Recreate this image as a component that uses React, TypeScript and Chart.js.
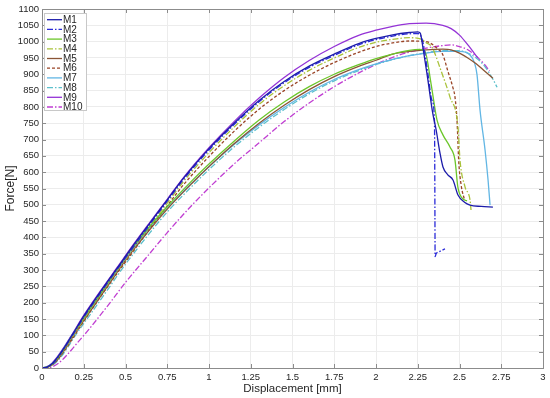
import React, { useEffect, useRef } from 'react';
import { Chart, registerables } from 'chart.js';

Chart.register(...registerables);

// ---------------- data ----------------
const seriesNames = ['M1', 'M2', 'M3', 'M4', 'M5', 'M6', 'M7', 'M8', 'M9', 'M10'];

const M1_x = [0, 0.03, 0.06, 0.1, 0.14, 0.178, 0.25, 0.35, 0.45, 0.55, 0.647, 0.75, 0.845, 1.0, 1.15, 1.3, 1.45, 1.6, 1.75, 1.9, 2.0, 2.1, 2.2, 2.25, 2.265, 2.28, 2.31, 2.34, 2.36, 2.383, 2.401, 2.43, 2.461, 2.491, 2.53, 2.563, 2.63, 2.7];
const M1_y = [0, 3, 13, 38, 68, 99, 159, 234, 306, 378, 445, 515, 580, 672, 750, 820, 878, 925, 962, 995, 1010, 1021, 1028, 1030, 1026, 985, 885, 780, 730, 659, 616, 592, 576, 530, 508, 499, 495, 493];

const M2_x = [0, 0.03, 0.06, 0.1, 0.14, 0.178, 0.25, 0.35, 0.45, 0.55, 0.647, 0.75, 0.845, 1.0, 1.15, 1.3, 1.45, 1.6, 1.75, 1.9, 2.0, 2.1, 2.2, 2.25, 2.28, 2.31, 2.335, 2.35, 2.352, 2.353, 2.354, 2.36, 2.385, 2.413];
const M2_y = [0, 2, 11, 35, 65, 96, 155, 230, 302, 372, 441, 511, 576, 668, 746, 816, 874, 921, 958, 991, 1006, 1017, 1024, 1025, 1000, 905, 820, 760, 600, 450, 341, 350, 358, 365];

const M3_x = [0, 0.04, 0.08, 0.12, 0.16, 0.2, 0.3, 0.4, 0.5, 0.647, 0.75, 0.9, 1.0, 1.15, 1.3, 1.45, 1.6, 1.75, 1.9, 2.0, 2.1, 2.2, 2.26, 2.293, 2.33, 2.365, 2.4, 2.443, 2.473, 2.49, 2.515, 2.545];
const M3_y = [0, 5, 22, 50, 82, 115, 190, 265, 340, 435, 495, 575, 625, 695, 760, 815, 862, 900, 930, 948, 962, 973, 976, 970, 870, 760, 715, 677, 637, 555, 521, 512];

const M4_x = [0, 0.03, 0.06, 0.1, 0.14, 0.178, 0.25, 0.35, 0.45, 0.55, 0.647, 0.75, 0.845, 1.0, 1.15, 1.3, 1.45, 1.6, 1.75, 1.9, 2.0, 2.1, 2.2, 2.27, 2.3, 2.335, 2.39, 2.443, 2.491, 2.503, 2.533, 2.563, 2.569];
const M4_y = [0, 2, 10, 34, 62, 92, 150, 226, 298, 368, 436, 505, 570, 660, 738, 808, 865, 912, 950, 983, 998, 1007, 1012, 1008, 997, 983, 910, 830, 738, 637, 555, 515, 484];

const M5_x = [0, 0.04, 0.08, 0.12, 0.16, 0.2, 0.3, 0.4, 0.5, 0.647, 0.75, 0.9, 1.0, 1.15, 1.3, 1.45, 1.6, 1.75, 1.9, 2.0, 2.1, 2.2, 2.3, 2.4, 2.45, 2.5, 2.55, 2.6, 2.65, 2.7];
const M5_y = [0, 4, 18, 44, 75, 108, 182, 256, 330, 425, 487, 567, 617, 687, 750, 805, 853, 893, 925, 943, 962, 970, 975, 977, 975, 965, 950, 932, 910, 888];

const M6_x = [0, 0.03, 0.06, 0.1, 0.14, 0.178, 0.25, 0.35, 0.45, 0.55, 0.647, 0.75, 0.845, 1.0, 1.15, 1.3, 1.45, 1.6, 1.75, 1.9, 2.0, 2.1, 2.2, 2.3, 2.37, 2.4, 2.43, 2.46, 2.473, 2.485, 2.49, 2.495, 2.51, 2.53];
const M6_y = [0, 2, 9, 30, 57, 86, 143, 218, 290, 360, 428, 497, 560, 648, 725, 793, 850, 897, 936, 968, 985, 996, 1002, 1000, 978, 960, 910, 860, 830, 760, 700, 637, 560, 515];

const M7_x = [0, 0.04, 0.08, 0.12, 0.16, 0.2, 0.3, 0.4, 0.5, 0.647, 0.75, 0.9, 1.0, 1.15, 1.3, 1.45, 1.6, 1.75, 1.9, 2.0, 2.1, 2.2, 2.3, 2.4, 2.5, 2.563, 2.59, 2.605, 2.623, 2.653, 2.671, 2.683];
const M7_y = [0, 6, 24, 52, 84, 116, 190, 262, 335, 430, 490, 568, 617, 685, 745, 798, 845, 884, 915, 932, 946, 957, 965, 970, 970, 959, 935, 898, 790, 668, 576, 499];

const M8_x = [0, 0.04, 0.08, 0.12, 0.16, 0.2, 0.3, 0.4, 0.5, 0.647, 0.75, 0.9, 1.0, 1.15, 1.3, 1.45, 1.6, 1.75, 1.9, 2.0, 2.1, 2.2, 2.3, 2.4, 2.5, 2.55, 2.6, 2.65, 2.7, 2.725];
const M8_y = [0, 3, 15, 38, 68, 100, 172, 245, 318, 415, 478, 558, 608, 677, 738, 792, 840, 880, 912, 930, 945, 957, 966, 972, 972, 965, 950, 925, 885, 860];

const M9_x = [0, 0.03, 0.06, 0.1, 0.14, 0.178, 0.25, 0.35, 0.45, 0.55, 0.647, 0.75, 0.845, 1.0, 1.15, 1.3, 1.45, 1.6, 1.75, 1.9, 2.0, 2.1, 2.2, 2.3, 2.4, 2.45, 2.5, 2.55, 2.61];
const M9_y = [0, 4, 15, 40, 70, 101, 161, 236, 308, 380, 447, 517, 582, 675, 755, 827, 890, 942, 985, 1020, 1035, 1047, 1055, 1057, 1050, 1040, 1020, 990, 950];

const M10_x = [0, 0.05, 0.1, 0.15, 0.2, 0.277, 0.4, 0.5, 0.647, 0.75, 0.9, 1.0, 1.15, 1.3, 1.45, 1.6, 1.75, 1.9, 2.0, 2.1, 2.2, 2.3, 2.4, 2.45, 2.5, 2.55, 2.6, 2.65, 2.68];
const M10_y = [0, 2, 15, 40, 70, 116, 195, 262, 352, 415, 500, 552, 625, 690, 755, 812, 862, 905, 930, 952, 968, 980, 988, 990, 985, 975, 955, 930, 910];

const seriesX = [M1_x, M2_x, M3_x, M4_x, M5_x, M6_x, M7_x, M8_x, M9_x, M10_x];
const seriesY = [M1_y, M2_y, M3_y, M4_y, M5_y, M6_y, M7_y, M8_y, M9_y, M10_y];

const xTickValues = [0, 0.25, 0.5, 0.75, 1, 1.25, 1.5, 1.75, 2, 2.25, 2.5, 2.75, 3];
const yTickValues = [0, 50, 100, 150, 200, 250, 300, 350, 400, 450, 500, 550, 600, 650, 700, 750, 800, 850, 900, 950, 1000, 1050, 1100];

// ---------------- styles ----------------
const DASHDOT = [6, 2, 1.5, 2];
const DASHED = [3, 2];
const seriesColors = ['#1c1caa', '#2a2ad8', '#6cc62a', '#a9c23a', '#8a5535', '#9a4426', '#62b6e4', '#5cc0cc', '#9433d6', '#c03ed2'];
const seriesDash = [[], DASHDOT, [], DASHDOT, [], DASHED, [], DASHDOT, [], DASHDOT];

const FONT = '"Liberation Sans", Arial, Helvetica, sans-serif';
const AXIS_COLOR = '#8c8c8c';
const TEXT_COLOR = '#262626';

const boxPlugin = {
  id: 'matlabBox',
  afterDraw(chart: any) {
    const { ctx, chartArea } = chart;
    const { left, right, top, bottom } = chartArea;
    const xs = chart.scales.x;
    const ys = chart.scales.y;
    ctx.save();
    ctx.strokeStyle = AXIS_COLOR;
    ctx.lineWidth = 1;
    ctx.setLineDash([]);
    ctx.strokeRect(Math.round(left) + 0.5, Math.round(top) + 0.5, Math.round(right - left), Math.round(bottom - top));
    const tl = 4;
    ctx.beginPath();
    xTickValues.forEach((v) => {
      const px = Math.round(xs.getPixelForValue(v)) + 0.5;
      ctx.moveTo(px, bottom);
      ctx.lineTo(px, bottom - tl);
      ctx.moveTo(px, top);
      ctx.lineTo(px, top + tl);
    });
    yTickValues.forEach((v) => {
      const py = Math.round(ys.getPixelForValue(v)) + 0.5;
      ctx.moveTo(left, py);
      ctx.lineTo(left + tl, py);
      ctx.moveTo(right, py);
      ctx.lineTo(right - tl, py);
    });
    ctx.stroke();

    // legend
    const lx = 44.5, ly = 13.5, lw = 42, lh = 97;
    ctx.fillStyle = '#ffffff';
    ctx.fillRect(lx, ly, lw, lh);
    ctx.strokeStyle = '#c8c8c8';
    ctx.strokeRect(lx, ly, lw, lh);
    ctx.font = `10px ${FONT}`;
    ctx.textBaseline = 'middle';
    ctx.textAlign = 'left';
    seriesNames.forEach((name, i) => {
      const y = 19.7 + i * 9.7;
      ctx.strokeStyle = seriesColors[i];
      ctx.lineWidth = 1.3;
      ctx.setLineDash(seriesDash[i]);
      ctx.beginPath();
      ctx.moveTo(47, y);
      ctx.lineTo(62, y);
      ctx.stroke();
      ctx.setLineDash([]);
      ctx.fillStyle = TEXT_COLOR;
      ctx.fillText(name, 63, y + 0.5);
    });
    ctx.restore();
  },
};

export default function App() {
  const canvasRef = useRef<HTMLCanvasElement | null>(null);

  useEffect(() => {
    if (!canvasRef.current) return;
    const datasets = seriesNames.map((name, i) => ({
      label: name,
      data: seriesX[i].map((x, j) => ({ x, y: seriesY[i][j] })),
      showLine: true,
      borderColor: seriesColors[i],
      backgroundColor: seriesColors[i],
      borderWidth: 1.3,
      borderDash: seriesDash[i],
      pointRadius: 0,
      fill: false,
      cubicInterpolationMode: 'monotone' as const,
    }));

    const chart = new Chart(canvasRef.current, {
      type: 'scatter',
      data: { datasets },
      plugins: [boxPlugin],
      options: {
        responsive: false,
        animation: false,
        devicePixelRatio: 1,
        layout: { padding: { top: 9, right: 7, left: 0, bottom: 0 } },
        plugins: {
          legend: { display: false },
          tooltip: { enabled: false },
        },
        scales: {
          x: {
            type: 'linear',
            min: 0,
            max: 3,
            afterBuildTicks: (scale: any) => {
              scale.ticks = xTickValues.map((v) => ({ value: v }));
            },
            afterFit: (scale: any) => {
              scale.height = 30;
            },
            ticks: {
              autoSkip: false,
              maxRotation: 0,
              padding: 4,
              color: TEXT_COLOR,
              font: { family: FONT, size: 9.5 },
              callback: (v: any) => String(Number(v)),
            },
            grid: { color: '#ececec', lineWidth: 1, drawTicks: false },
            border: { display: false },
            title: {
              display: true,
              text: 'Displacement [mm]',
              color: TEXT_COLOR,
              font: { family: FONT, size: 11.5 },
              padding: { top: 0, bottom: 2 },
            },
          },
          y: {
            type: 'linear',
            min: 0,
            max: 1100,
            afterBuildTicks: (scale: any) => {
              scale.ticks = yTickValues.map((v) => ({ value: v }));
            },
            afterFit: (scale: any) => {
              scale.width = 42;
            },
            ticks: {
              autoSkip: false,
              padding: 3,
              color: TEXT_COLOR,
              font: { family: FONT, size: 9.5 },
              callback: (v: any) => String(Number(v)),
            },
            grid: { color: '#ececec', lineWidth: 1, drawTicks: false },
            border: { display: false },
            title: {
              display: true,
              text: 'Force[N]',
              color: TEXT_COLOR,
              font: { family: FONT, size: 12 },
              padding: { top: 3, bottom: 0 },
            },
          },
        },
      },
    });
    return () => chart.destroy();
  }, []);

  return (
    <div style={{ position: 'absolute', left: 0, top: 0, width: 550, height: 398, background: '#ffffff' }}>
      <canvas ref={canvasRef} width={550} height={398} style={{ width: 550, height: 398, display: 'block' }} />
    </div>
  );
}
